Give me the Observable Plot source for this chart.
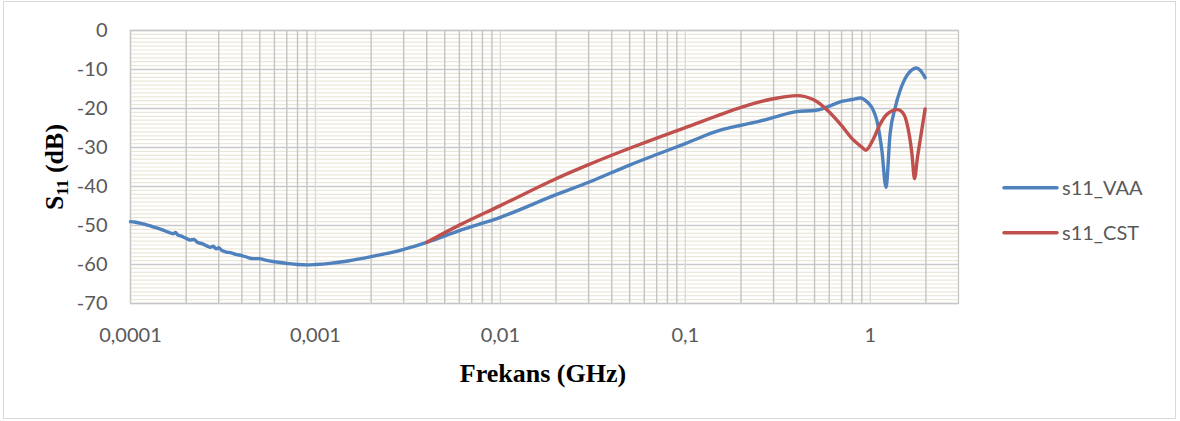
<!DOCTYPE html>
<html>
<head>
<meta charset="utf-8">
<script src="https://cdn.jsdelivr.net/npm/d3@7"></script>
<script src="https://cdn.jsdelivr.net/npm/@observablehq/plot@0.6"></script>
<style>
  html, body { margin: 0; padding: 0; background: #fff; overflow: hidden; }
  #chart { width: 1180px; height: 421px; }
</style>
</head>
<body>
<div id="chart"></div>
<script>
// ---- data ----
const vaaFreq = [1e-4, 1.05e-4, 1.1e-4, 1.2e-4, 1.3e-4, 1.4e-4, 1.5e-4, 1.6e-4, 1.7e-4, 1.75e-4, 1.8e-4, 1.9e-4,
  2.0e-4, 2.1e-4, 2.2e-4, 2.3e-4, 2.45e-4, 2.6e-4, 2.7e-4, 2.8e-4, 2.9e-4, 3.0e-4, 3.1e-4, 3.3e-4, 3.5e-4, 3.7e-4,
  4.0e-4, 4.3e-4, 4.6e-4, 5.0e-4, 5.3e-4, 6e-4, 7e-4, 8e-4, 9e-4, 1e-3, 1.2e-3, 1.5e-3, 2e-3, 3e-3, 4e-3, 6e-3,
  0.01, 0.02, 0.03, 0.05, 0.07, 0.1, 0.156, 0.2, 0.25, 0.3, 0.4, 0.5, 0.55, 0.6, 0.7, 0.8, 0.883, 0.966, 1.03,
  1.086, 1.156, 1.216, 1.28, 1.365, 1.45, 1.58, 1.68, 1.77, 1.87, 1.98];
const vaaDb = [-49.0, -49.1, -49.3, -49.7, -50.2, -50.7, -51.2, -51.7, -52.1, -51.8, -52.4, -52.8,
  -53.3, -53.7, -53.6, -54.3, -54.7, -55.3, -55.6, -55.3, -56.0, -55.7, -56.3, -56.8, -57.0, -57.4,
  -57.7, -58.2, -58.5, -58.5, -58.8, -59.3, -59.7, -60.0, -60.1, -60.0, -59.7, -59.1, -58.0, -56.1, -54.3, -51.3,
  -47.9, -42.1, -38.9, -34.5, -31.8, -29.0, -25.5, -24.3, -23.3, -22.3, -20.8, -20.5, -20.1, -19.4, -18.2, -17.7, -17.3, -18.4, -20.1,
  -23.1, -30.8, -40.2, -26.5, -19.7, -15.4, -11.5, -10.1, -9.6, -10.3, -12.1];

const cstFreq = [0.004, 0.006, 0.01, 0.02, 0.03, 0.05, 0.07, 0.1, 0.156, 0.2, 0.3, 0.4, 0.5, 0.6, 0.7, 0.8, 0.9, 0.947,
  1.04, 1.12, 1.23, 1.405, 1.52, 1.58, 1.68, 1.735, 1.8, 1.86, 1.98];
const cstDb = [-54.3, -49.9, -44.9, -38.0, -34.4, -30.2, -27.6, -24.9, -21.5, -19.7, -17.5, -16.7, -17.9, -20.9, -24.4, -27.8, -29.9, -30.7,
  -27.8, -24.4, -21.5, -20.3, -21.5, -23.9, -31.6, -38.0, -32.5, -28.2, -20.1];

const seriesNames = ["s11_VAA", "s11_CST"];
const seriesColors = ["#4f81bd", "#c0504d"];

const xTicks = [1e-4, 1e-3, 1e-2, 1e-1, 1];
const xTickLabels = ["0,0001", "0,001", "0,01", "0,1", "1"];
const yTicks = [-70, -60, -50, -40, -30, -20, -10, 0];
const yTickLabels = ["-70", "-60", "-50", "-40", "-30", "-20", "-10", "0"];
const xDomain = [1e-4, 3];
const yDomain = [-70, 0];

// ---- derived tables ----
const vaa = vaaFreq.map((f, i) => ({f, db: vaaDb[i]}));
const cst = cstFreq.map((f, i) => ({f, db: cstDb[i]}));

const xGrid = [];
for (let d = -4; d <= 0; d++) for (let k = 1; k <= 9; k++) {
  const v = +(k * Math.pow(10, d)).toPrecision(3);
  if (v <= 2) xGrid.push({v, decade: k === 1});
}
const yMinor = d3.range(-69, 0).filter(v => v % 10 !== 0);

const W = 1180, H = 421;
const FONT = "Lato, 'Open Sans', sans-serif";
const svg = Plot.plot({
  width: W, height: H,
  marginLeft: 130, marginRight: 222, marginTop: 30, marginBottom: 118,
  style: {fontFamily: FONT, fontSize: "20px", color: "#595959", background: "#fff"},
  x: {type: "log", domain: xDomain},
  y: {domain: yDomain},
  marks: [
    Plot.ruleY(yMinor, {stroke: "#ebe7d9", strokeWidth: 1.2}),
    Plot.ruleY(yTicks, {stroke: "#c9c9c9", strokeWidth: 1.3}),
    Plot.ruleX(xGrid.filter(d => !d.decade), {x: "v", stroke: "#c4c4c4", strokeWidth: 1.4}),
    Plot.ruleX(xGrid.filter(d => d.decade), {x: "v", stroke: "#dadada", strokeWidth: 1.4}),
    Plot.frame({stroke: "#c6c6c6", strokeWidth: 1.3}),
    Plot.axisX({ticks: xTicks, tickFormat: d => xTickLabels[xTicks.indexOf(d)], tickSize: 0, tickPadding: 24, label: null, fill: "#595959"}),
    Plot.axisY({ticks: yTicks, tickFormat: d => yTickLabels[yTicks.indexOf(d)], tickSize: 0, tickPadding: 23, label: null, fill: "#595959"}),
    Plot.line(vaa, {x: "f", y: "db", stroke: seriesColors[0], strokeWidth: 3.4, curve: "monotone-x"}),
    Plot.line(cst, {x: "f", y: "db", stroke: seriesColors[1], strokeWidth: 3.4, curve: "monotone-x"})
  ]
});

const s = d3.select(svg);
// outer chart border
s.append("rect").attr("x", 3.5).attr("y", 1.5).attr("width", 1172).attr("height", 417)
  .attr("fill", "none").attr("stroke", "#d9d9d9").attr("stroke-width", 1);

// axis titles
s.append("text").attr("x", 543).attr("y", 381.5).attr("text-anchor", "middle")
  .attr("font-family", "'Liberation Serif', 'Times New Roman', serif").attr("font-weight", "bold")
  .attr("font-size", 26).attr("fill", "#000").text("Frekans (GHz)");

const yt = s.append("text").attr("transform", "translate(63,167) rotate(-90)").attr("text-anchor", "middle")
  .attr("font-family", "'Liberation Serif', 'Times New Roman', serif").attr("font-weight", "bold")
  .attr("font-size", 26).attr("fill", "#000");
yt.append("tspan").text("S");
yt.append("tspan").attr("font-size", 17).attr("dy", 5).text("11");
yt.append("tspan").attr("dy", -5).text(" (dB)");

// legend
const lg = s.append("g").attr("text-anchor", "start");
seriesNames.forEach((name, i) => {
  const y = 187.7 + i * 45;
  lg.append("line").attr("x1", 1004).attr("x2", 1057).attr("y1", y).attr("y2", y)
    .attr("stroke", seriesColors[i]).attr("stroke-width", 3.5).attr("stroke-linecap", "round");
  lg.append("text").attr("x", 1062).attr("y", y + 7).attr("text-anchor", "start").attr("font-family", FONT)
    .attr("font-size", 20).attr("fill", "#595959").text(name);
});

document.getElementById("chart").appendChild(svg);
</script>
</body>
</html>
